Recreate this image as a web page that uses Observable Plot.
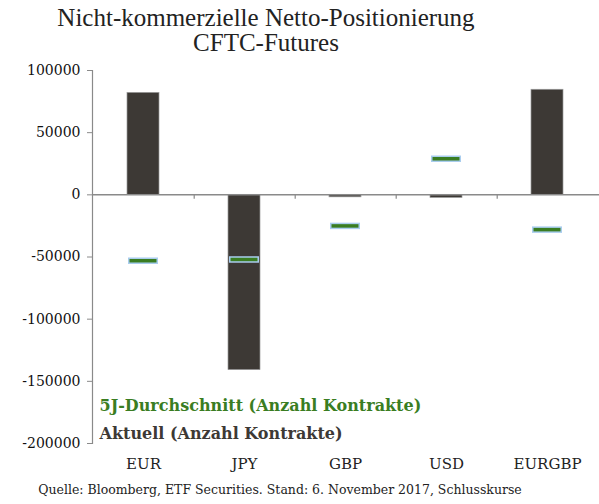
<!DOCTYPE html>
<html><head><meta charset="utf-8">
<script src="https://cdn.jsdelivr.net/npm/d3@7"></script>
<script src="https://cdn.jsdelivr.net/npm/@observablehq/plot@0.6"></script>
<style>
body{margin:0;background:#fff;font-family:"DejaVu Serif",serif;}
#title{width:532px;height:58px;text-align:center;font-family:"Liberation Serif","Times New Roman",serif;font-size:25px;line-height:25px;color:#222;padding-top:5px;box-sizing:border-box;}
#cap{width:560px;text-align:center;font-size:12.5px;color:#222;margin-top:4px;}
</style></head><body>
<div id="title">Nicht-kommerzielle Netto-Positionierung<br>CFTC-Futures</div>
<div id="chart"></div>
<div id="cap">Quelle: Bloomberg, ETF Securities. Stand: 6. November 2017, Schlusskurse</div>
<script>
const categories = ["EUR","JPY","GBP","USD","EURGBP"];
const current = [82000,-141000,-2000,-2500,84500];
const avg5y = [-53000,-52000,-25000,29000,-28000];
const yTicks = [100000,50000,0,-50000,-100000,-150000,-200000];
const legendAvg = "5J-Durchschnitt (Anzahl Kontrakte)";
const legendCur = "Aktuell (Anzahl Kontrakte)";

const data = categories.map((c,i)=>({cat:c,cur:current[i],avg:avg5y[i]}));
const boundaries = categories.slice(0,-1);

const chart = Plot.plot({
  width:599, height:420,
  marginLeft:92, marginRight:0, marginTop:12, marginBottom:35,
  style:{fontFamily:"DejaVu Serif, serif", background:"#fff"},
  x:{domain:categories, paddingInner:0.68, paddingOuter:0.34, label:null},
  y:{domain:[-200000,100000], label:null},
  marks:[
    Plot.frame({anchor:"left", stroke:"#8a8a8a", strokeWidth:1.2}),
    Plot.axisY({ticks:yTicks, tickSize:5, tickPadding:7, tickFormat:d=>String(d), fontSize:14, fill:"#111", stroke:"#8a8a8a", label:null}),
    Plot.barY(data,{x:"cat", y:"cur", fill:"#3d3935", stroke:"#9a9a9a", strokeWidth:0.7}),
    Plot.ruleY([0],{stroke:"#8a8a8a", strokeWidth:1.5}),
    Plot.ruleX(boundaries,{x:d=>d, dx:50.7, y1:0, y2:-3500, stroke:"#8a8a8a", strokeWidth:1.2}),
    Plot.tickY(data,{x:"cat", y:"avg", stroke:"#a9cdee", strokeWidth:6.5, inset:1}),
    Plot.tickY(data,{x:"cat", y:"avg", stroke:"#3a7d22", strokeWidth:3.5, inset:2.5}),
    Plot.axisX({tickSize:0, tickPadding:15, fontSize:15, fill:"#222", label:null}),
    Plot.text([legendAvg],{frameAnchor:"bottom-left", dx:7, dy:-33, text:d=>d, fill:"#3a7d22", fontWeight:"bold", fontSize:16, textAnchor:"start"}),
    Plot.text([legendCur],{frameAnchor:"bottom-left", dx:7, dy:-5, text:d=>d, fill:"#3d3935", fontWeight:"bold", fontSize:16, textAnchor:"start"})
  ]
});
document.getElementById("chart").appendChild(chart);
</script>
</body></html>
